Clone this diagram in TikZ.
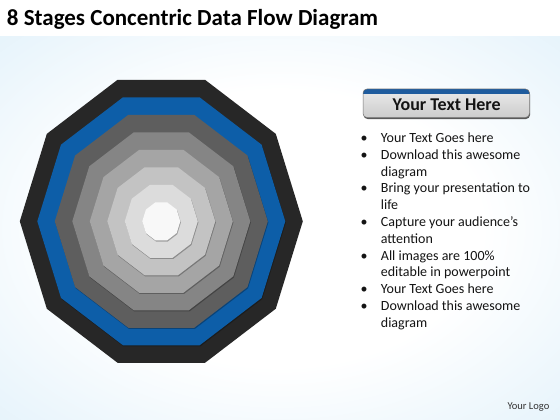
\documentclass[tikz,border=0pt]{standalone}
\usepackage{fontspec}
\setmainfont{Carlito}
\definecolor{bgblue}{HTML}{D2EAF8}
\definecolor{ringA}{HTML}{272727}
\definecolor{ringB}{HTML}{0D5EA8}
\definecolor{ringC}{HTML}{5E5E5E}
\definecolor{ringD}{HTML}{858585}
\definecolor{ringE}{HTML}{A5A5A5}
\definecolor{ringF}{HTML}{C3C3C3}
\definecolor{ringG}{HTML}{DCDCDC}
\definecolor{ringH}{HTML}{F8F8F8}
\definecolor{bandblue}{HTML}{1F5C9E}
\pgfdeclareradialshading{bgshade}{\pgfpoint{0bp}{0bp}}{color(0bp)=(white); color(18bp)=(white); color(50bp)=(bgblue); color(75bp)=(bgblue)}
\tikzset{
  bul/.style={anchor=base west, font=\fontsize{14}{16.8}\selectfont, inner sep=0pt, text=black!92},
  dot/.style={anchor=base, font=\fontsize{14}{16.8}\selectfont, inner sep=0pt, text=black!92},
}
\newcommand\decagon[2]{(161.3+#1,221.3) \foreach \a in {36,72,...,324}{ -- ({161.3+#1*cos(\a)},{221.3+#2*sin(\a)})} -- cycle}
\begin{document}
\begin{tikzpicture}[x=1pt,y=-1pt]
\useasboundingbox (0,0) rectangle (560,420);
% background
\fill[white] (0,0) rectangle (560,420);
\shade[shading=bgshade] (0,37) rectangle (560,420);
% title
\node[anchor=base west, font=\bfseries\fontsize{23}{27}\selectfont, inner sep=0pt] (title) at (6.7,26) {8 Stages Concentric Data Flow Diagram};
% concentric decagons
\foreach \k/\c in {0/ringA,1/ringB,2/ringC,3/ringD,4/ringE,5/ringF,6/ringG,7/ringH}{
  \pgfmathsetmacro\rx{141.5-17.5*\k}
  \pgfmathsetmacro\ry{\rx/0.9511}
  \ifnum\k>0
    \fill[black,opacity=0.28,shift={(0.6,1.2)}] \decagon{\rx}{\ry};
  \fi
  \fill[\c] \decagon{\rx}{\ry};
}
% header box
\fill[black!65,rounded corners=4pt] (363.5,90.5) rectangle (530,119);
\begin{scope}
  \clip[rounded corners=4pt] (363,89) rectangle (529.5,117.5);
  \shade[top color=black!8, bottom color=black!20] (363,89) rectangle (529.5,117.5);
  \fill[bandblue] (363,89) rectangle (529.5,94);
\end{scope}
\draw[black!55,line width=0.5pt,rounded corners=4pt] (363,89) rectangle (529.5,117.5);
\node[font=\bfseries\fontsize{18}{21}\selectfont, inner sep=0pt, text=black!92] (head) at (446.7,105) {Your Text Here};
% bullet list
\foreach \i/\t in {1/Your Text Goes here,2/Download this awesome,3/diagram,4/Bring your presentation to,5/life,6/Capture your audience’s,7/attention,8/All images are 100\%,9/editable in powerpoint,10/Your Text Goes here,11/Download this awesome,12/diagram}{
  \node[bul] (l\i) at (380.7,{142.5+16.8*(\i-1)}) {\t};
}
\foreach \i in {1,2,4,6,8,10,11}{
  \node[dot] (b\i) at (364,{142.5+16.8*(\i-1)}) {•};
}
% logo
\node[anchor=base east, font=\fontsize{10.5}{12}\selectfont, inner sep=0pt, text=black!80] (logo) at (549.5,409.5) {Your Logo};
\end{tikzpicture}
\end{document}
